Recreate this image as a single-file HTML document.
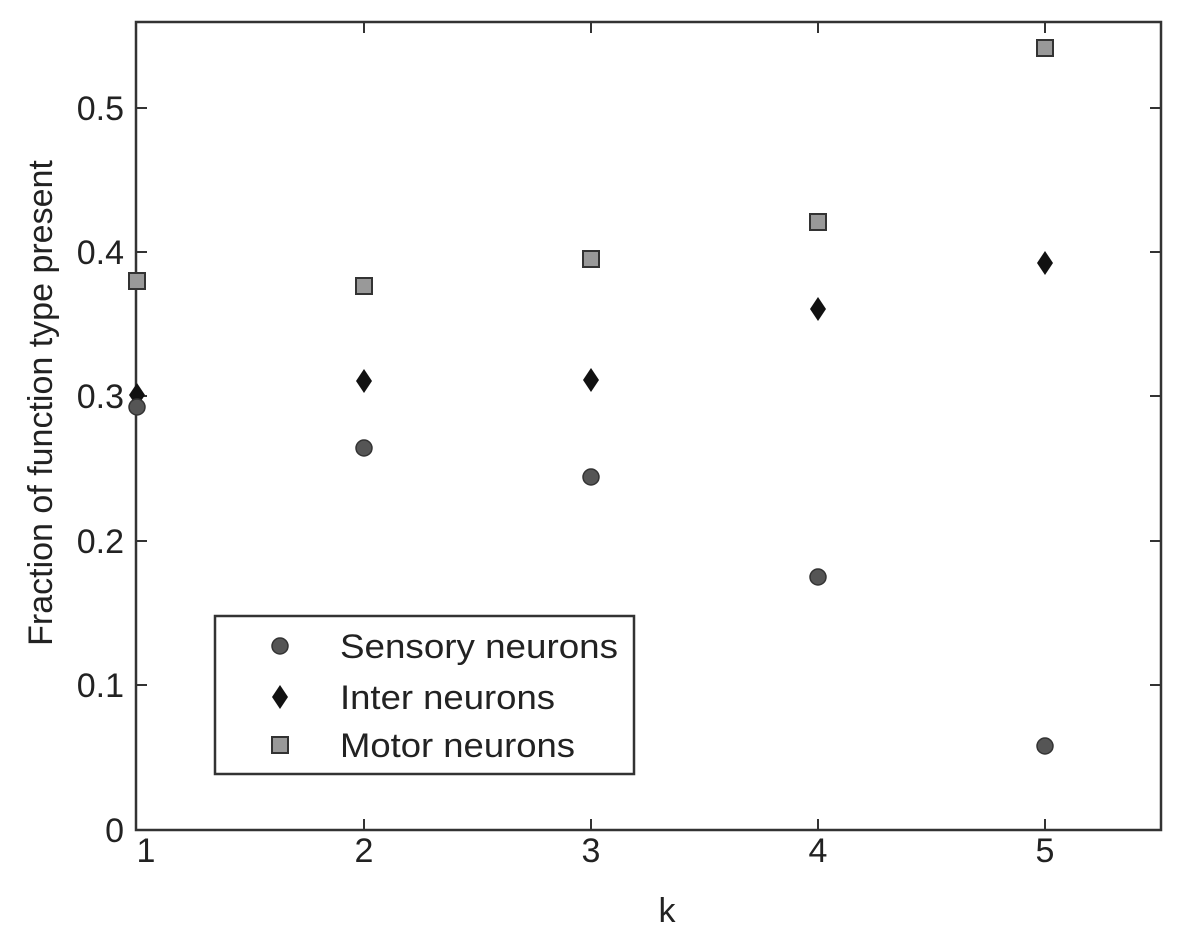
<!DOCTYPE html>
<html><head><meta charset="utf-8"><style>body{margin:0;background:#fff}svg{display:block}</style></head>
<body>
<svg width="1191" height="938" viewBox="0 0 1191 938" xmlns="http://www.w3.org/2000/svg" font-family="Liberation Sans, Arial, sans-serif" fill="#222">
<rect x="136" y="22" width="1025" height="808" fill="none" stroke="#333" stroke-width="2.5"/>
<g stroke="#333" stroke-width="2">
<line x1="136" y1="108" x2="147" y2="108"/><line x1="1161" y1="108" x2="1150" y2="108"/>
<line x1="136" y1="252" x2="147" y2="252"/><line x1="1161" y1="252" x2="1150" y2="252"/>
<line x1="136" y1="396" x2="147" y2="396"/><line x1="1161" y1="396" x2="1150" y2="396"/>
<line x1="136" y1="541" x2="147" y2="541"/><line x1="1161" y1="541" x2="1150" y2="541"/>
<line x1="136" y1="685" x2="147" y2="685"/><line x1="1161" y1="685" x2="1150" y2="685"/>
<line x1="364" y1="830" x2="364" y2="819"/><line x1="364" y1="22" x2="364" y2="33"/>
<line x1="591" y1="830" x2="591" y2="819"/><line x1="591" y1="22" x2="591" y2="33"/>
<line x1="818" y1="830" x2="818" y2="819"/><line x1="818" y1="22" x2="818" y2="33"/>
<line x1="1045" y1="830" x2="1045" y2="819"/><line x1="1045" y1="22" x2="1045" y2="33"/>
</g>
<g font-size="34" text-anchor="end">
<text x="124" y="120">0.5</text><text x="124" y="264">0.4</text><text x="124" y="408">0.3</text>
<text x="124" y="553">0.2</text><text x="124" y="697">0.1</text><text x="124" y="842">0</text>
</g>
<g font-size="34" text-anchor="middle">
<text x="146" y="862">1</text><text x="364" y="862">2</text><text x="591" y="862">3</text>
<text x="818" y="862">4</text><text x="1045" y="862">5</text>
<text x="667" y="922">k</text>
</g>
<text x="0" y="0" font-size="34" text-anchor="middle" transform="translate(52,403) rotate(-90)">Fraction of function type present</text>
<g fill="#999" stroke="#333" stroke-width="2">
<rect x="129" y="273" width="16" height="16"/><rect x="356" y="278" width="16" height="16"/>
<rect x="583" y="251" width="16" height="16"/><rect x="810" y="214" width="16" height="16"/>
<rect x="1037" y="40" width="16" height="16"/>
</g>
<g fill="#111">
<polygon points="137,383 145,395 137,407 129,395"/><polygon points="364,369 372,381 364,393 356,381"/>
<polygon points="591,368 599,380 591,392 583,380"/><polygon points="818,297 826,309 818,321 810,309"/>
<polygon points="1045,251 1053,263 1045,275 1037,263"/>
</g>
<g fill="#555" stroke="#333" stroke-width="1.5">
<circle cx="137" cy="407" r="8"/><circle cx="364" cy="448" r="8"/><circle cx="591" cy="477" r="8"/>
<circle cx="818" cy="577" r="8"/><circle cx="1045" cy="746" r="8"/>
</g>
<rect x="215" y="616" width="419" height="158" fill="#fff" stroke="#333" stroke-width="2.5"/>
<circle cx="280" cy="646" r="8" fill="#555" stroke="#333" stroke-width="1.5"/>
<polygon points="280,685 288,697 280,709 272,697" fill="#111"/>
<rect x="272" y="737" width="16" height="16" fill="#999" stroke="#333" stroke-width="2"/>
<g font-size="34">
<text x="340" y="658" textLength="278" lengthAdjust="spacingAndGlyphs">Sensory neurons</text>
<text x="340" y="709" textLength="215" lengthAdjust="spacingAndGlyphs">Inter neurons</text>
<text x="340" y="757" textLength="235" lengthAdjust="spacingAndGlyphs">Motor neurons</text>
</g>
</svg>
</body></html>
